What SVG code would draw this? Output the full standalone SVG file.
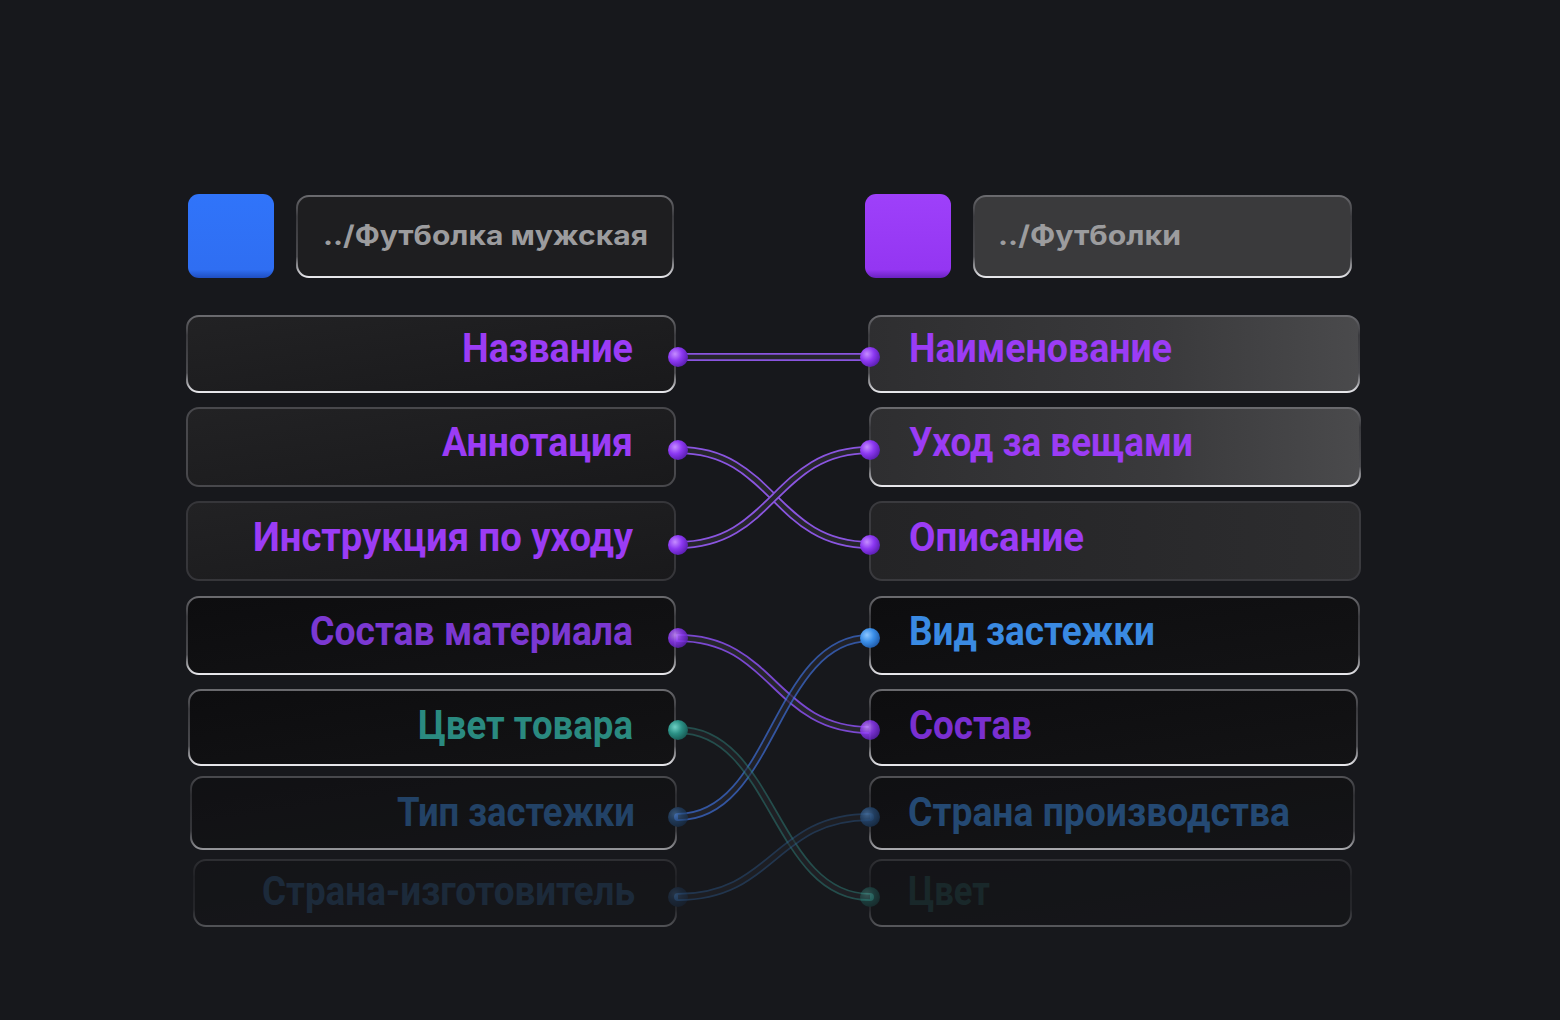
<svg xmlns="http://www.w3.org/2000/svg" width="1560" height="1020" viewBox="0 0 1560 1020">
<defs>
<linearGradient id="edge" x1="0" y1="0" x2="0" y2="1">
<stop offset="0" stop-color="#6a6a6e"/><stop offset="0.25" stop-color="#3a3a3e"/><stop offset="0.75" stop-color="#4a4a4e"/><stop offset="1" stop-color="#e8e8ec"/>
</linearGradient>
<linearGradient id="fillL" x1="0" y1="0" x2="1" y2="1">
<stop offset="0" stop-color="#222224"/><stop offset="1" stop-color="#19191b"/>
</linearGradient>
<linearGradient id="fillD" x1="0" y1="0" x2="1" y2="1">
<stop offset="0" stop-color="#0d0d0f"/><stop offset="1" stop-color="#131315"/>
</linearGradient>
<linearGradient id="fillG" x1="0" y1="0" x2="1" y2="0">
<stop offset="0" stop-color="#2e2e30"/><stop offset="0.6" stop-color="#3a3a3c"/><stop offset="1" stop-color="#4a4a4c"/>
</linearGradient>
<linearGradient id="fillM" x1="0" y1="0" x2="1" y2="0">
<stop offset="0" stop-color="#242426"/><stop offset="1" stop-color="#2d2d2f"/>
</linearGradient>
<radialGradient id="dotP" cx="0.35" cy="0.35" r="0.7"><stop offset="0" stop-color="#c58cff"/><stop offset="0.5" stop-color="#8c38f2"/><stop offset="1" stop-color="#5a1eb0"/></radialGradient>
<radialGradient id="dotT" cx="0.35" cy="0.35" r="0.7"><stop offset="0" stop-color="#6fd0c4"/><stop offset="0.5" stop-color="#2a8f84"/><stop offset="1" stop-color="#185a54"/></radialGradient>
<radialGradient id="dotB" cx="0.35" cy="0.35" r="0.7"><stop offset="0" stop-color="#8cc6ff"/><stop offset="0.5" stop-color="#3a8ee8"/><stop offset="1" stop-color="#1f5aa8"/></radialGradient>
<radialGradient id="dotN" cx="0.35" cy="0.35" r="0.7"><stop offset="0" stop-color="#4e7eb4"/><stop offset="0.5" stop-color="#274e7c"/><stop offset="1" stop-color="#173252"/></radialGradient>
<linearGradient id="sqB" x1="0" y1="0" x2="0" y2="1"><stop offset="0" stop-color="#3074fa"/><stop offset="0.9" stop-color="#2f6ef2"/><stop offset="1" stop-color="#1f4ec0"/></linearGradient>
<linearGradient id="sqP" x1="0" y1="0" x2="0" y2="1"><stop offset="0" stop-color="#9e40fa"/><stop offset="0.9" stop-color="#9436f2"/><stop offset="1" stop-color="#6a22c0"/></linearGradient>
</defs>
<style>
.box{stroke:url(#edge);stroke-width:2}
.lbl{font-family:Roboto,"Liberation Sans",sans-serif;font-weight:700;font-size:41px}
.hdr{font-family:Inter,"Noto Sans","Liberation Sans",sans-serif;font-weight:700;font-size:27px;fill:#9c9c9e}
.tube{fill:none;stroke-width:8;stroke-linecap:round}
.core{fill:none;stroke-width:4.5;stroke:#26262c}
</style>
<rect width="1560" height="1020" fill="#17181c"/>

<g id="source-square"><rect x="188" y="194" width="86" height="84" rx="11" fill="url(#sqB)"/></g>
<g id="source-path"><rect class="box" x="297" y="196" width="376" height="81" rx="12" fill="#1e1e20"/><text class="hdr" x="323" y="245" textLength="325" lengthAdjust="spacingAndGlyphs">../Футболка мужская</text></g>
<g id="target-square"><rect x="865" y="194" width="86" height="84" rx="11" fill="url(#sqP)"/></g>
<g id="target-path"><rect class="box" x="974" y="196" width="377" height="81" rx="12" fill="#3a3a3c"/><text class="hdr" x="998" y="245" textLength="183" lengthAdjust="spacingAndGlyphs">../Футболки</text></g>

<g id="connectors">
<path class="tube" stroke="#8a55e0" d="M678,357 L870,357"/><path class="core" d="M678,357 L870,357"/>
<path class="tube" stroke="#8a55e0" d="M678,450 C774,450 774,545 870,545"/><path class="core" d="M678,450 C774,450 774,545 870,545"/>
<path class="tube" stroke="#8a55e0" d="M678,545 C774,545 774,450 870,450"/><path class="core" d="M678,545 C774,545 774,450 870,450"/>
<path class="tube" stroke="#7a48d0" d="M678,638 C774,638 774,730 870,730"/><path class="core" d="M678,638 C774,638 774,730 870,730"/>
<g opacity="0.7"><path class="tube" stroke="#3f6fd8" d="M678,817 C774,817 774,638 870,638"/><path class="core" d="M678,817 C774,817 774,638 870,638"/></g>
<g opacity="0.55"><path class="tube" stroke="#2f7a74" d="M678,730 C774,730 774,897 870,897"/><path class="core" d="M678,730 C774,730 774,897 870,897"/></g>
<g opacity="0.45"><path class="tube" stroke="#2f5a8c" d="M678,897 C774,897 774,817 870,817"/><path class="core" d="M678,897 C774,897 774,817 870,817"/></g>
</g>

<g id="src-1"><rect class="box" x="187" y="316" width="488" height="76" rx="12" fill="url(#fillL)"/><text class="lbl" x="633" y="362" text-anchor="end" fill="#9b3cf5" textLength="171" lengthAdjust="spacingAndGlyphs">Название</text><circle cx="678" cy="357" r="10" fill="url(#dotP)"/></g>
<g id="src-2"><rect class="box" x="187" y="408" width="488" height="78" rx="12" fill="url(#fillL)" style="stroke:#48484c"/><text class="lbl" x="633" y="456" text-anchor="end" fill="#9b3cf5" textLength="191" lengthAdjust="spacingAndGlyphs">Аннотация</text><circle cx="678" cy="450" r="10" fill="url(#dotP)"/></g>
<g id="src-3"><rect class="box" x="187" y="502" width="488" height="78" rx="12" fill="url(#fillL)" style="stroke:#36363a"/><text class="lbl" x="633" y="551" text-anchor="end" fill="#9b3cf5" textLength="380" lengthAdjust="spacingAndGlyphs">Инструкция по уходу</text><circle cx="678" cy="545" r="10" fill="url(#dotP)"/></g>
<g id="src-4"><rect class="box" x="187" y="597" width="488" height="77" rx="12" fill="url(#fillD)"/><text class="lbl" x="633" y="645" text-anchor="end" fill="#7b38d2" textLength="323" lengthAdjust="spacingAndGlyphs">Состав материала</text><circle cx="678" cy="638" r="10" fill="url(#dotP)" opacity="0.85"/></g>
<g id="src-5"><rect class="box" x="189" y="690" width="486" height="75" rx="12" fill="url(#fillD)"/><text class="lbl" x="633" y="739" text-anchor="end" fill="#2a8a80" textLength="215" lengthAdjust="spacingAndGlyphs">Цвет товара</text><circle cx="678" cy="730" r="10" fill="url(#dotT)"/></g>
<g id="src-6" opacity="0.6"><rect class="box" x="191" y="777" width="485" height="72" rx="12" fill="url(#fillD)"/><text class="lbl" x="635" y="826" text-anchor="end" fill="#2a5f98" font-size="37" textLength="238" lengthAdjust="spacingAndGlyphs">Тип застежки</text><circle cx="678" cy="817" r="10" fill="url(#dotN)"/></g>
<g id="src-7" opacity="0.28"><rect class="box" x="194" y="860" width="482" height="66" rx="12" fill="url(#fillD)"/><text class="lbl" x="635" y="905" text-anchor="end" fill="#2a5a8a" font-size="36" textLength="373" lengthAdjust="spacingAndGlyphs">Страна-изготовитель</text><circle cx="678" cy="897" r="10" fill="url(#dotN)"/></g>

<g id="tgt-1"><rect class="box" x="869" y="316" width="490" height="76" rx="12" fill="url(#fillG)"/><text class="lbl" x="909" y="362" fill="#9b3cf5" textLength="263" lengthAdjust="spacingAndGlyphs">Наименование</text><circle cx="870" cy="357" r="10" fill="url(#dotP)"/></g>
<g id="tgt-2"><rect class="box" x="870" y="408" width="490" height="78" rx="12" fill="url(#fillG)"/><text class="lbl" x="909" y="456" fill="#9b3cf5" textLength="284" lengthAdjust="spacingAndGlyphs">Уход за вещами</text><circle cx="870" cy="450" r="10" fill="url(#dotP)"/></g>
<g id="tgt-3"><rect class="box" x="870" y="502" width="490" height="78" rx="12" fill="url(#fillM)" style="stroke:#3a3a3e"/><text class="lbl" x="909" y="551" fill="#9b3cf5" textLength="175" lengthAdjust="spacingAndGlyphs">Описание</text><circle cx="870" cy="545" r="10" fill="url(#dotP)"/></g>
<g id="tgt-4"><rect class="box" x="870" y="597" width="489" height="77" rx="12" fill="url(#fillD)"/><text class="lbl" x="909" y="645" fill="#3a8ae2" textLength="246" lengthAdjust="spacingAndGlyphs">Вид застежки</text><circle cx="870" cy="638" r="10" fill="url(#dotB)"/></g>
<g id="tgt-5"><rect class="box" x="870" y="690" width="487" height="75" rx="12" fill="url(#fillD)"/><text class="lbl" x="909" y="739" fill="#7a2fd0" textLength="123" lengthAdjust="spacingAndGlyphs">Состав</text><circle cx="870" cy="730" r="10" fill="url(#dotP)" opacity="0.85"/></g>
<g id="tgt-6" opacity="0.7"><rect class="box" x="870" y="777" width="484" height="72" rx="12" fill="url(#fillD)"/><text class="lbl" x="908" y="826" fill="#2a5f98" font-size="38" textLength="382" lengthAdjust="spacingAndGlyphs">Страна производства</text><circle cx="870" cy="817" r="10" fill="url(#dotN)"/></g>
<g id="tgt-7" opacity="0.3"><rect class="box" x="870" y="860" width="481" height="66" rx="12" fill="url(#fillD)"/><text class="lbl" x="908" y="905" fill="#1f4e4c" font-size="36" textLength="82" lengthAdjust="spacingAndGlyphs">Цвет</text><circle cx="870" cy="897" r="10" fill="url(#dotT)"/></g>
</svg>
